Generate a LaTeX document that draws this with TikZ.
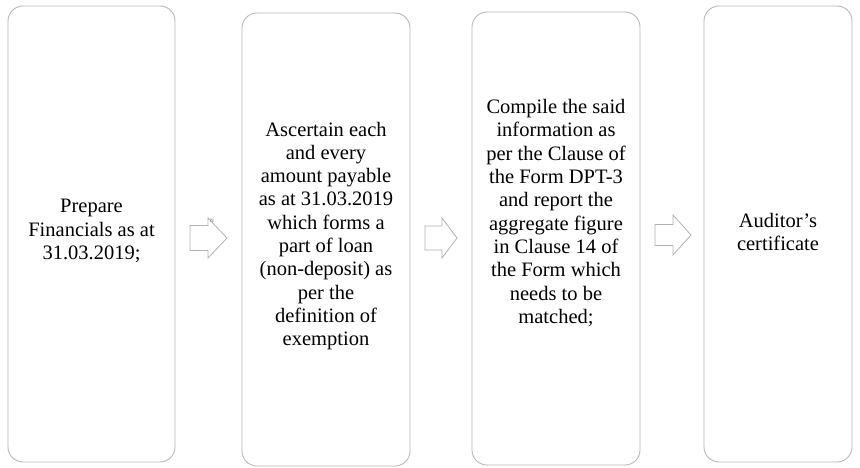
\documentclass[tikz,border=0pt]{standalone}
\usepackage{fontspec}
\setmainfont{Liberation Serif}
\begin{document}
\begin{tikzpicture}[x=1pt,y=-1pt,
  stage/.style={draw=black!28,line width=0.9pt,rounded corners=15pt,fill=white},
  stagetext/.style={align=center,inner sep=0pt,font=\fontsize{20.5}{23.3}\selectfont},
  flowarrow/.style={draw=black!30,line width=0.8pt,fill=white,line join=miter}]
\useasboundingbox (0,0) rectangle (860,468);
% stage boxes
\draw[stage] (8,6) rectangle (175,462);
\draw[stage] (242,13) rectangle (410,466);
\draw[stage] (472,12) rectangle (640,465);
\draw[stage] (704,6) rectangle (852,462);
\coordinate (b1) at (91.5,234);
\coordinate (b2) at (326,239.5);
\coordinate (b3) at (556,238.5);
\coordinate (b4) at (778,234);
% stage texts
\node[stagetext] (t1) at (91.5,231) {Prepare\\Financials as at\\31.03.2019;};
\node[stagetext] (t2) at (326,236) {Ascertain each\\and every\\amount payable\\as at 31.03.2019\\which forms a\\part of loan\\(non-deposit) as\\per the\\definition of\\exemption};
\node[stagetext] (t3) at (556,213) {Compile the said\\information as\\per the Clause of\\the Form DPT-3\\and report the\\aggregate figure\\in Clause 14 of\\the Form which\\needs to be\\matched;};
\node[stagetext] (t4) at (778,232) {Auditor’s\\certificate};
% block arrows between stages (tip given, shape relative to it)
\newcommand\stagearrow[6]{%
  % #1,#2 tip; #3 head length; #4 total length; #5 shaft half; #6 head half
  \draw[flowarrow] (#1,#2) -- ++(-#3,-#6) -- ++(0,#6-#5) -- ++(-#4+#3,0)
    -- ++(0,2*#5) -- ++(#4-#3,0) -- ++(0,#6-#5) -- cycle;}
\stagearrow{227}{238}{19}{37}{12.5}{20}
\stagearrow{457}{238}{15}{32}{12}{20}
\stagearrow{691}{235}{18}{36}{10.5}{20}
\node[inner sep=0pt,font=\fontsize{5}{5}\selectfont\sffamily,text=black!55] (nmark) at (212,221) {N};
\end{tikzpicture}
\end{document}
